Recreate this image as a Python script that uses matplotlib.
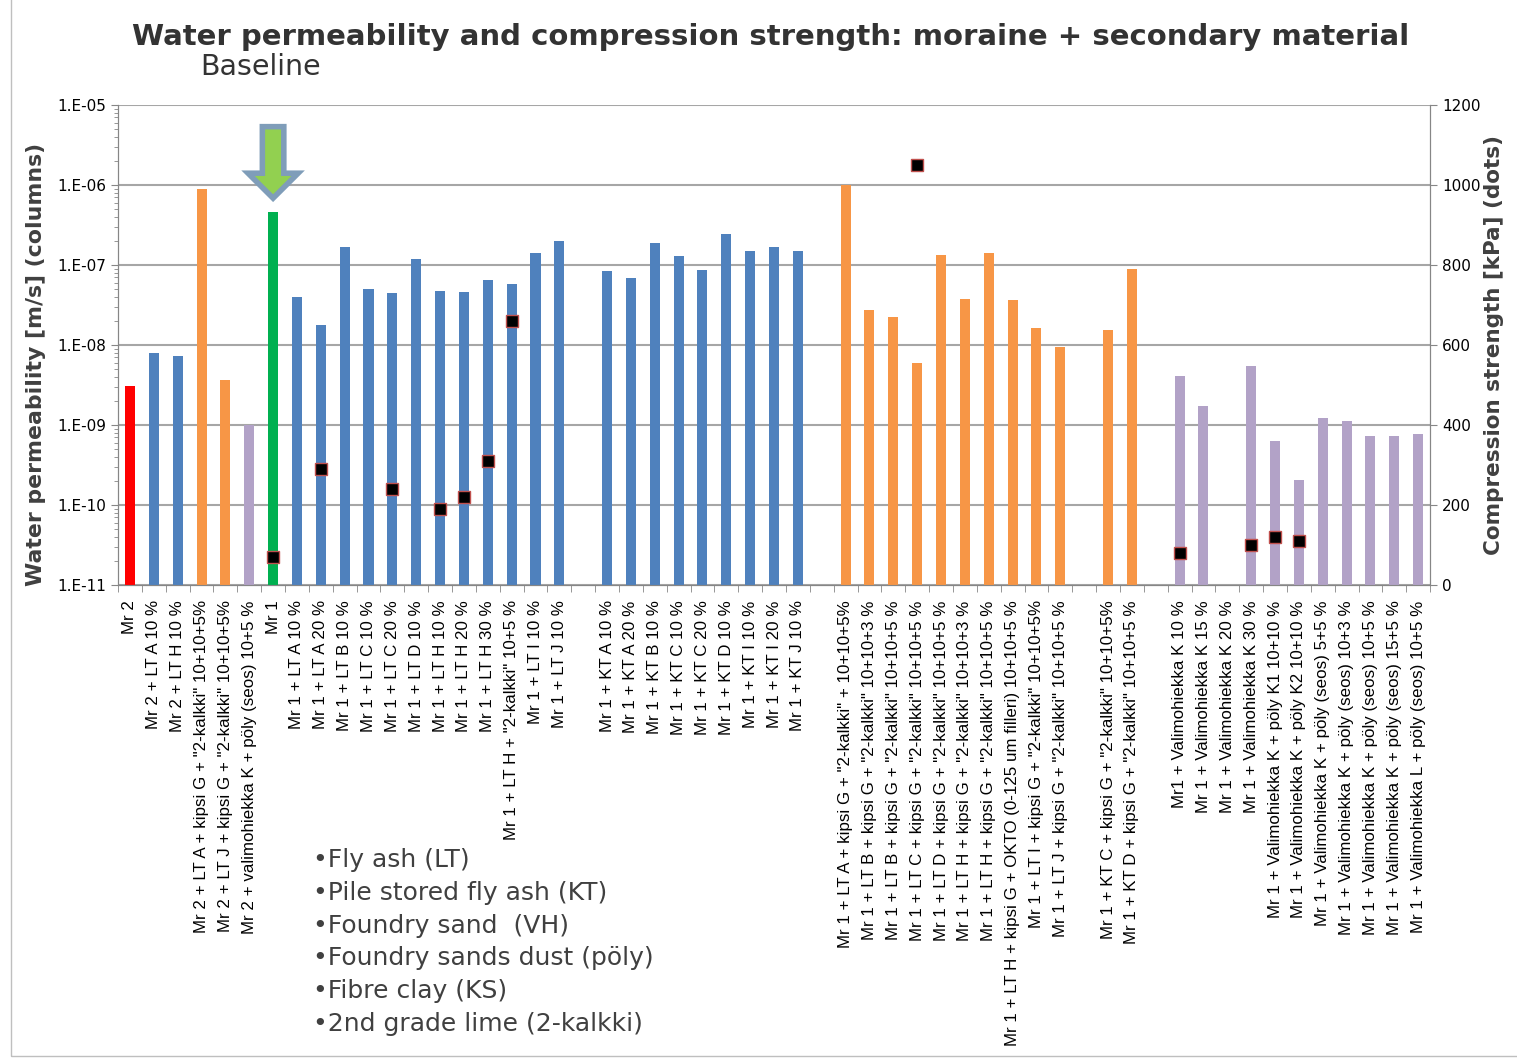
import matplotlib
matplotlib.use('Agg')
import matplotlib.pyplot as plt
from matplotlib.patches import Polygon, Rectangle
import matplotlib.transforms as mtransforms
import numpy as np

# categories (empty strings are the gaps between groups)
labels = [
    'Mr 2', 'Mr 2 + LT A 10 %', 'Mr 2 + LT H 10 %',
    'Mr 2 + LT A + kipsi G + "2-kalkki" 10+10+5%',
    'Mr 2 + LT J + kipsi G + "2-kalkki" 10+10+5%',
    'Mr 2 + valimohiekka K + pöly (seos) 10+5 %',
    'Mr 1',
    'Mr 1 + LT A 10 %', 'Mr 1 + LT A 20 %', 'Mr 1 + LT B 10 %', 'Mr 1 + LT C 10 %',
    'Mr 1 + LT C 20 %', 'Mr 1 + LT D 10 %', 'Mr 1 + LT H 10 %', 'Mr 1 + LT H 20 %',
    'Mr 1 + LT H 30 %', 'Mr 1 + LT H + "2-kalkki" 10+5 %', 'Mr 1 + LT I 10 %',
    'Mr 1 + LT J 10 %',
    '',
    'Mr 1 + KT A 10 %', 'Mr 1 + KT A 20 %', 'Mr 1 + KT B 10 %', 'Mr 1 + KT C 10 %',
    'Mr 1 + KT C 20 %', 'Mr 1 + KT D 10 %', 'Mr 1 + KT I 10 %', 'Mr 1 + KT I 20 %',
    'Mr 1 + KT J 10 %',
    '',
    'Mr 1 + LT A + kipsi G + "2-kalkki" + 10+10+5%',
    'Mr 1 + LT B + kipsi G + "2-kalkki" 10+10+3 %',
    'Mr 1 + LT B + kipsi G + "2-kalkki" 10+10+5 %',
    'Mr 1 + LT C + kipsi G + "2-kalkki" 10+10+5 %',
    'Mr 1 + LT D + kipsi G + "2-kalkki" 10+10+5 %',
    'Mr 1 + LT H + kipsi G + "2-kalkki" 10+10+3 %',
    'Mr 1 + LT H + kipsi G + "2-kalkki" 10+10+5 %',
    'Mr 1 + LT H + kipsi G + OKTO (0-125 um filleri) 10+10+5 %',
    'Mr 1 + LT I + kipsi G + "2-kalkki" 10+10+5%',
    'Mr 1 + LT J + kipsi G + "2-kalkki" 10+10+5 %',
    '',
    'Mr 1 + KT C + kipsi G + "2-kalkki" 10+10+5%',
    'Mr 1 + KT D + kipsi G + "2-kalkki" 10+10+5 %',
    '',
    'Mr1 + Valimohiekka K 10 %', 'Mr 1 + Valimohiekka K 15 %',
    'Mr 1 + Valimohiekka K 20 %', 'Mr 1 + Valimohiekka K 30 %',
    'Mr 1 + Valimohiekka K + pöly K1 10+10 %',
    'Mr 1 + Valimohiekka K + pöly K2 10+10 %',
    'Mr 1 + Valimohiekka K + pöly (seos) 5+5 %',
    'Mr 1 + Valimohiekka K + pöly (seos) 10+3 %',
    'Mr 1 + Valimohiekka K + pöly (seos) 10+5 %',
    'Mr 1 + Valimohiekka K + pöly (seos) 15+5 %',
    'Mr 1 + Valimohiekka L + pöly (seos) 10+5 %',
]

# material group of each category
groups = ['ref2', 'LT', 'LT', 'mix', 'mix', 'VH', 'ref1'] + ['LT'] * 12 + [''] + \
         ['LT'] * 9 + [''] + ['mix'] * 10 + [''] + ['mix'] * 2 + [''] + ['VH'] * 11

nan = np.nan
# water permeability [m/s]
permeability = [
    3.1e-9, 8.0e-9, 7.2e-9, 8.9e-7, 3.65e-9, 9.9e-10, 4.6e-7,
    4.0e-8, 1.8e-8, 1.7e-7, 5.05e-8, 4.5e-8, 1.2e-7, 4.8e-8, 4.6e-8, 6.5e-8, 5.85e-8, 1.4e-7, 2.0e-7,
    nan,
    8.4e-8, 6.9e-8, 1.88e-7, 1.3e-7, 8.7e-8, 2.45e-7, 1.5e-7, 1.68e-7, 1.5e-7,
    nan,
    1.0e-6, 2.75e-8, 2.25e-8, 5.95e-9, 1.33e-7, 3.75e-8, 1.4e-7, 3.65e-8, 1.63e-8, 9.4e-9,
    nan,
    1.54e-8, 8.9e-8,
    nan,
    4.1e-9, 1.73e-9, nan, 5.45e-9, 6.3e-10, 2.05e-10, 1.22e-9, 1.12e-9, 7.3e-10, 7.3e-10, 7.7e-10,
]

# compression strength [kPa]
strength = [nan] * 55
strength[6] = 70
strength[8] = 290
strength[11] = 240
strength[13] = 190
strength[14] = 220
strength[15] = 310
strength[16] = 660
strength[33] = 1050
strength[44] = 80
strength[47] = 100
strength[48] = 120
strength[49] = 110

yticklabels = ['1.E-11', '1.E-10', '1.E-09', '1.E-08', '1.E-07', '1.E-06', '1.E-05']
bullets = ['Fly ash (LT)', 'Pile stored fly ash (KT)', 'Foundry sand  (VH)',
           'Foundry sands dust (pöly)', 'Fibre clay (KS)', '2nd grade lime (2-kalkki)']

colors = {'ref2': '#FF0000', 'ref1': '#00B050', 'LT': '#4F81BD',
          'mix': '#F79646', 'VH': '#B2A2C7', '': 'white'}

fig = plt.figure(figsize=(15.17, 10.59), dpi=100)
ax = fig.add_axes([0.0778, 0.4476, 0.8649, 0.4532])

n = len(labels)
x = np.arange(n)
ymin = 1e-11
perm = np.array(permeability)
ax.set_yscale('log')
ax.bar(x, perm - ymin, bottom=ymin, width=0.42,
       color=[colors[g] for g in groups], zorder=3)
ax.set_ylim(1e-11, 1e-5)
ax.set_xlim(-0.5, n - 0.5)
ax.set_yticks([10.0 ** k for k in range(-11, -4)])
ax.set_yticklabels(yticklabels, fontsize=11)
ax.grid(axis='y', which='major', color='#A6A6A6', linewidth=1.5, zorder=0)

ax.set_xticks(x)
ax.set_xticklabels(labels, rotation=90, fontsize=12.2, family='Liberation Sans')
ax.tick_params(axis='x', which='major', length=0, pad=11)
ax.set_xticks(np.arange(-0.5, n, 1), minor=True)
ax.tick_params(axis='x', which='minor', length=5, color='#868686')
ax.tick_params(axis='y', which='major', length=5, color='#868686')
ax.tick_params(axis='y', which='minor', length=3, color='#868686')

for s in ['left', 'bottom', 'right']:
    ax.spines[s].set_color('#868686')
ax.spines['top'].set_visible(False)

ax.set_ylabel('Water permeability [m/s] (columns)', fontsize=15.8, fontweight='bold',
              color='#404040')
ax.yaxis.set_label_coords(-0.055, 0.46)

ax2 = ax.twinx()
ax2.plot(x, strength, linestyle='none', marker='s', markersize=9,
         markerfacecolor='black', markeredgecolor='#C0504D', markeredgewidth=1, zorder=5)
ax2.set_ylim(0, 1200)
ax2.set_yticks(range(0, 1201, 200))
ax2.tick_params(axis='y', labelsize=11, length=5, color='#868686')
for s in ['left', 'bottom', 'right']:
    ax2.spines[s].set_color('#868686')
ax2.spines['top'].set_visible(False)
ax2.set_ylabel('Compression strength [kPa] (dots)', fontsize=15.5, fontweight='bold',
               color='#404040')
ax2.yaxis.set_label_coords(1.041, 0.5)

# arrow pointing at Mr 1
tr = mtransforms.blended_transform_factory(ax.transData, ax.transAxes)
xc = 6
arrow = Polygon([(xc - 0.45, 0.955), (xc + 0.45, 0.955), (xc + 0.45, 0.858),
                 (xc + 1.05, 0.858), (xc, 0.806), (xc - 1.05, 0.858), (xc - 0.45, 0.858)],
                closed=True, transform=tr, facecolor='#92D050', edgecolor='#7F9DB9',
                linewidth=4, clip_on=False, zorder=6)
ax.add_patch(arrow)

fig.text(0.508, 0.965, 'Water permeability and compression strength: moraine + secondary material',
         ha='center', va='center', fontsize=21, fontweight='bold', color='#333333')
fig.text(0.132, 0.937, 'Baseline', ha='left', va='center', fontsize=20.5, color='#333333')

for i, b in enumerate(bullets):
    fig.text(0.206, 0.188 - i * 0.031, '\u2022' + b, ha='left', va='center',
             fontsize=18, color='#404040')

fig.add_artist(Rectangle((0.007, 0.003), 1.2, 1.2, transform=fig.transFigure,
                         fill=False, edgecolor='#BFBFBF', linewidth=1))

fig.savefig('out.png', dpi=100)
